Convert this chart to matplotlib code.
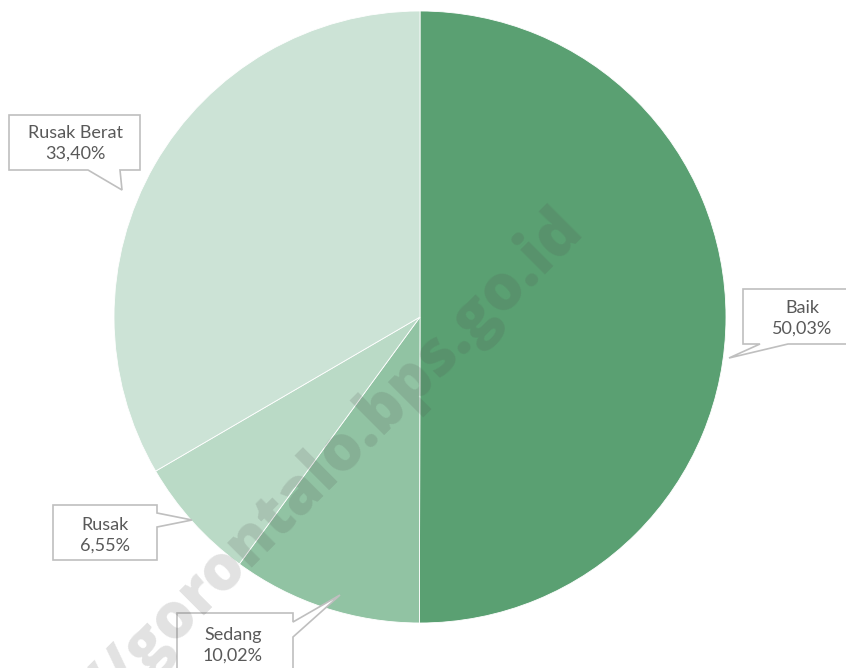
import matplotlib.pyplot as plt
from matplotlib.patches import Polygon

# data
labels = ["Baik", "Sedang", "Rusak", "Rusak Berat"]
shares = [50.03, 10.02, 6.55, 33.40]
colors = ["#5aa072", "#91c3a3", "#badac6", "#cce3d6"]

W, H = 846, 668
fig = plt.figure(figsize=(W / 100, H / 100), dpi=100)
ax = fig.add_axes([0, 0, 1, 1])

# pie in pixel space (y measured from the top)
cx, cy, r = 420, 317, 306
ax.pie(shares, colors=colors, startangle=90, counterclock=False,
       center=(cx, H - cy), radius=r, frame=True,
       wedgeprops=dict(edgecolor="white", linewidth=0.6))
ax.set_xlim(0, W)
ax.set_ylim(0, H)
ax.set_aspect("equal")
ax.axis("off")


def callout(pts, text_xy, label, value):
    # pts are in top-down pixel coordinates
    poly = Polygon([(x, H - y) for x, y in pts], closed=True,
                   facecolor="white", edgecolor="#bfbfbf", linewidth=1.2,
                   zorder=5)
    ax.add_patch(poly)
    tx, ty = text_xy
    ax.text(tx, H - ty, label + "\n" + value, ha="center", va="center",
            fontsize=13, color="#595959", family="Lato",
            linespacing=1.35, zorder=6)


fmt = lambda v: "{:.2f}%".format(v).replace(".", ",")

# Rusak Berat box, pointer at the bottom
callout([(9, 115), (140, 115), (140, 170), (120, 170), (122, 190),
         (88, 170), (9, 170)], (75, 143), labels[3], fmt(shares[3]))
# Baik box, pointer at the bottom left
callout([(743, 289), (850, 289), (850, 344), (788, 344), (729, 358),
         (760, 344), (743, 344)], (802, 318), labels[0], fmt(shares[0]))
# Rusak box, pointer on the right
callout([(53, 505), (157, 505), (157, 513), (192, 520), (157, 527),
         (157, 560), (53, 560)], (105, 535), labels[2], fmt(shares[2]))
# Sedang box, pointer at the top right
callout([(177, 613), (293, 613), (293, 622), (340, 595), (293, 637),
         (293, 680), (177, 680)], (233, 645), labels[1], fmt(shares[1]))

# watermark
ax.text(335, H - 460, "//gorontalo.bps.go.id", rotation=45,
        ha="center", va="center", fontsize=45, fontweight="heavy",
        family="Open Sans", color="#505050", alpha=0.17, zorder=7)

fig.savefig("out.png", dpi=100)
